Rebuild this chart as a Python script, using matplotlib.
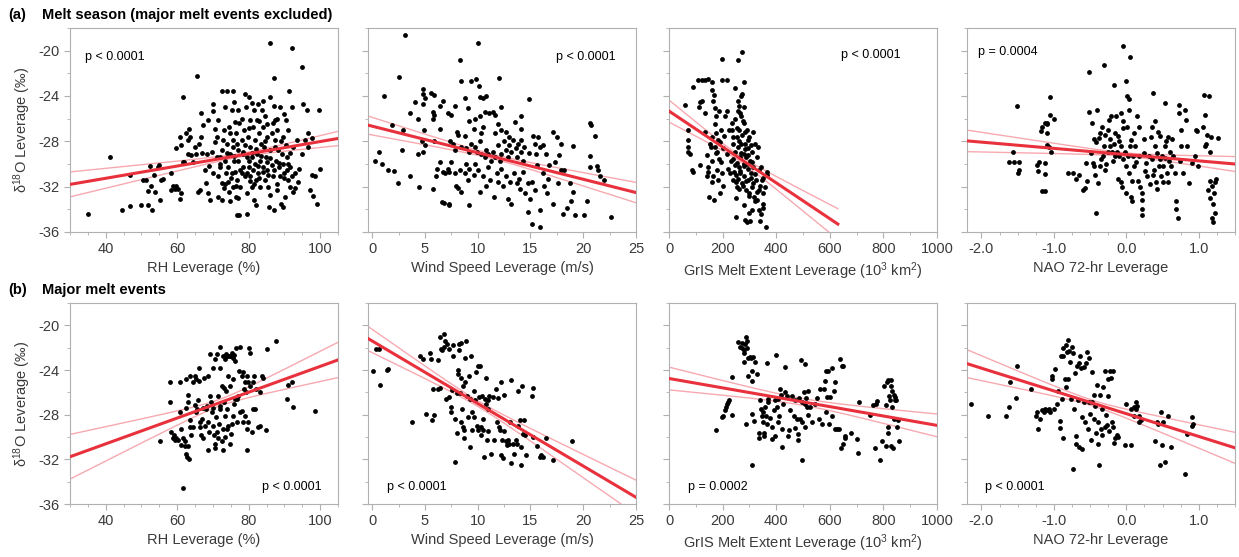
import matplotlib.pyplot as plt
import numpy as np
from matplotlib.ticker import MultipleLocator

plt.rcParams['font.family'] = ['Liberation Sans', 'DejaVu Sans']
plt.rcParams['mathtext.fontset'] = 'custom'
plt.rcParams['mathtext.rm'] = 'Liberation Sans'
plt.rcParams['mathtext.it'] = 'Liberation Sans:italic'
plt.rcParams['axes.unicode_minus'] = False

# ---- (a) melt season, major melt events excluded: (x, d18O)
rh_season = [(35.1,-34.4),(41.2,-29.4),(44.6,-34.1),(46.8,-33.7),(46.8,-31.0),(50.0,-33.6),(51.9,-33.6),(53.0,-34.1),
    (52.4,-30.2),(50.5,-31.4),(51.4,-31.4),(51.9,-32.4),(52.8,-31.9),(53.5,-31.0),(53.8,-32.5),(54.7,-30.3),(55.0,-30.1),
    (55.4,-31.4),(55.2,-33.2),(55.9,-31.3),(58.4,-30.8),(58.4,-32.3),(58.9,-31.9),(59.4,-32.2),(59.8,-31.9),(60.3,-32.2),
    (59.8,-28.6),(60.8,-27.6),(61.2,-28.3),(61.5,-29.8),(61.7,-24.1),(62.0,-29.8),(62.6,-27.3),(63.1,-27.9),(63.4,-26.9),
    (63.6,-27.6),(63.1,-29.1),(64.0,-29.2),(64.5,-29.8),(64.9,-28.5),(65.4,-29.1),(65.9,-32.5),(65.6,-22.2),(66.3,-32.3),
    (61.2,-32.6),(60.8,-33.1),(66.8,-25.5),(66.8,-27.6),(67.3,-26.6),(67.7,-30.5),(68.2,-29.1),(68.7,-32.6),(68.7,-26.1),
    (69.1,-33.2),(69.6,-28.9),(70.0,-24.7),(70.0,-30.8),(70.0,-25.3),(70.5,-26.9),(71.0,-29.4),(71.0,-27.6),(71.5,-32.9),
    (71.5,-31.1),(71.9,-29.4),(71.9,-30.3),(72.4,-23.6),(72.4,-31.7),(72.4,-33.2),(72.7,-27.9),(73.1,-27.0),(73.3,-29.7),
    (73.3,-25.0),(73.6,-30.8),(73.8,-23.6),(74.0,-28.2),(74.3,-31.6),(74.3,-30.3),(74.5,-26.7),(74.7,-29.1),(74.7,-33.3),
    (74.9,-27.3),(75.2,-25.2),(75.2,-30.8),(75.5,-23.6),(75.7,-32.0),(75.7,-28.5),(75.9,-29.7),(76.1,-26.3),(76.1,-30.7),
    (76.4,-27.3),(76.4,-32.9),(76.6,-34.5),(76.8,-28.2),(76.8,-31.4),(77.1,-25.2),(77.1,-29.7),(77.3,-34.5),(77.3,-26.4),
    (77.5,-30.5),(77.7,-32.0),(78.0,-27.9),(78.3,-28.9),(78.5,-30.3),(78.6,-27.0),(79.0,-31.1),(79.2,-25.0),(79.4,-29.4),
    (79.4,-32.6),(79.6,-34.4),(79.9,-27.6),(80.1,-24.1),(80.1,-30.3),(80.3,-31.1),(80.5,-26.1),(80.5,-28.5),(80.8,-32.0),
    (80.8,-29.4),(81.1,-30.5),(81.3,-26.7),(81.4,-25.2),(81.4,-33.2),(81.7,-27.9),(81.7,-30.0),(82.0,-31.4),(82.2,-26.1),
    (82.4,-29.1),(82.7,-30.8),(82.7,-24.7),(82.9,-27.3),(83.1,-29.7),(83.3,-32.0),(83.4,-28.2),(83.6,-25.2),(83.9,-30.3),
    (84.1,-26.7),(84.2,-28.5),(84.5,-25.8),(84.5,-31.4),(84.8,-29.4),(85.0,-27.6),(85.2,-30.5),(85.5,-32.0),(85.7,-33.8),
    (85.9,-24.1),(86.1,-28.8),(86.1,-19.3),(86.4,-30.1),(86.7,-26.4),(86.9,-31.1),(87.0,-34.1),(87.1,-22.4),(87.3,-27.9),
    (87.3,-26.1),(87.6,-29.7),(87.8,-32.3),(88.0,-27.0),(88.2,-28.8),(88.5,-30.3),(88.7,-25.0),(88.9,-31.1),(89.2,-29.1),
    (89.5,-33.8),(89.6,-27.6),(89.8,-30.8),(90.1,-32.9),(90.4,-26.1),(90.6,-29.4),(90.8,-30.5),(91.0,-31.4),(91.3,-23.6),
    (91.5,-30.3),(91.7,-32.0),(92.0,-19.8),(92.2,-25.0),(92.3,-32.5),(92.4,-28.5),(92.9,-30.8),(93.4,-27.9),(93.8,-31.6),
    (94.8,-21.4),(94.8,-29.1),(95.2,-24.7),(95.7,-27.9),(96.2,-25.2),(96.6,-27.3),(97.1,-32.3),(97.6,-31.0),(98.0,-32.8),
    (98.5,-31.1),(99.0,-33.5),(99.7,-25.2),(99.9,-30.4),(96.6,-28.5),(97.6,-27.7),
    (72.0,-30.0),(73.5,-31.8),(74.0,-29.0),(75.0,-31.2),(76.0,-29.3),(76.5,-31.9),(77.0,-28.8),(78.0,-30.8),(78.5,-29.1),
    (79.0,-28.3),(79.5,-30.8),(80.0,-29.7),(80.5,-31.5),(81.0,-29.0),(81.5,-31.8),(82.0,-28.7),(82.5,-30.2),(83.0,-31.2),
    (83.5,-29.3),(84.0,-30.7),(84.5,-28.0),(85.0,-29.8),(85.5,-31.0),(86.0,-29.5),(86.5,-27.3),(87.0,-30.5),(87.5,-28.5),
    (88.0,-31.8),(88.5,-29.9),(89.0,-28.0),(89.5,-30.0),(90.0,-31.2),(90.5,-28.3),(91.0,-30.0),(91.5,-29.0),(92.0,-31.1),
    (93.0,-32.1),(94.0,-30.4),(70.5,-28.1),(71.5,-26.1),(72.5,-28.8),(73.0,-32.1),(74.5,-32.5),(75.5,-27.9),(76.0,-24.5),
    (77.0,-33.0),(78.0,-26.0),(79.0,-23.8),(80.0,-26.8),(81.0,-24.6),(82.0,-33.6),(83.0,-26.2),(84.0,-24.4),(85.0,-26.5),
    (86.0,-32.7),(87.0,-24.9),(88.0,-26.0),(89.0,-33.5),(90.0,-25.6),(91.0,-27.0),(68.0,-31.7),(69.0,-30.2),(67.0,-29.0),
    (66.0,-28.2)]

wind_season = [(3.1,-18.6),(10.0,-19.35),(8.3,-20.8),(2.5,-22.3),(8.4,-22.65),(9.4,-22.65),(9.8,-22.5),(12.0,-22.4),
    (10.1,-23.1),(1.1,-24.0),(4.8,-23.4),(4.8,-23.8),(5.0,-24.2),(5.6,-23.7),(5.9,-23.9),(4.1,-24.5),(4.8,-24.7),(6.7,-24.4),
    (6.4,-24.9),(7.8,-24.9),(8.8,-24.2),(10.2,-24.1),(10.8,-24.0),(10.5,-24.2),(14.9,-24.3),(12.2,-25.0),(3.6,-25.5),
    (5.8,-25.4),(5.9,-25.7),(5.8,-26.0),(7.2,-25.5),(7.5,-25.7),(9.1,-25.1),(10.7,-25.4),(11.1,-25.5),(11.4,-25.4),
    (11.6,-25.7),(4.3,-26.0),(9.2,-26.2),(9.7,-26.0),(10.2,-25.8),(11.9,-26.5),(13.5,-26.3),(14.1,-25.8),(1.9,-26.6),
    (2.9,-27.0),(4.9,-27.0),(6.4,-26.9),(8.0,-27.2),(8.8,-27.5),(9.6,-26.9),(10.3,-27.3),(10.5,-26.7),(11.6,-27.3),
    (12.2,-27.0),(12.7,-27.2),(13.0,-27.6),(14.1,-26.9),(14.1,-27.9),(15.2,-27.5),(15.7,-27.6),(17.1,-27.2),(17.5,-27.6),
    (20.6,-26.4),(20.7,-26.6),(21.1,-27.5),(0.6,-28.9),(2.8,-28.8),(4.3,-29.1),(4.7,-28.0),(4.8,-28.9),(5.0,-28.3),
    (5.9,-28.0),(7.4,-28.0),(7.7,-28.25),(7.8,-28.8),(8.1,-27.45),(8.4,-28.5),(8.9,-28.6),(9.2,-28.9),(9.4,-28.2),
    (9.7,-28.5),(9.9,-28.9),(10.2,-28.0),(10.3,-29.1),(10.7,-29.4),(10.8,-28.8),(11.0,-29.1),(11.3,-29.7),(11.4,-28.9),
    (11.6,-29.4),(11.9,-28.3),(12.1,-29.7),(12.2,-29.1),(12.5,-28.0),(12.7,-28.8),(12.9,-29.4),(13.0,-28.3),(13.2,-28.9),
    (13.3,-27.9),(13.6,-28.6),(13.7,-29.4),(13.8,-28.2),(14.1,-28.9),(14.3,-29.7),(14.4,-28.5),(14.9,-29.0),(15.4,-28.2),
    (15.5,-29.1),(15.9,-28.5),(16.2,-28.3),(16.5,-29.1),(17.7,-29.2),(17.9,-28.2),(19.0,-28.4),(20.6,-29.3),(0.3,-29.7),
    (0.9,-30.0),(1.5,-30.5),(2.1,-30.6),(2.4,-31.7),(3.6,-31.1),(4.4,-32.0),(5.8,-32.2),(6.1,-30.4),(6.0,-31.1),(6.4,-29.8),
    (6.7,-30.7),(6.9,-30.8),(7.2,-30.4),(7.3,-30.7),(7.5,-29.8),(7.8,-30.8),(7.9,-31.9),(8.1,-32.1),(8.3,-30.5),(8.4,-32.5),
    (8.8,-30.8),(8.9,-30.0),(9.1,-31.4),(9.2,-30.4),(9.6,-31.0),(9.7,-30.0),(10.0,-30.5),(10.2,-32.5),(10.5,-31.1),
    (10.8,-31.9),(11.0,-30.3),(11.2,-31.4),(11.5,-32.9),(11.8,-30.8),(11.9,-31.6),(12.2,-30.4),(12.4,-31.9),(12.7,-31.1),
    (12.9,-33.1),(13.1,-31.6),(13.2,-33.5),(13.4,-30.8),(13.7,-31.7),(13.9,-31.3),(14.0,-32.2),(14.3,-30.7),(14.5,-32.6),
    (14.8,-31.7),(15.0,-33.1),(15.1,-31.6),(15.4,-32.3),(15.6,-30.1),(15.9,-34.1),(16.2,-30.8),(16.3,-31.9),(16.6,-32.6),
    (16.7,-31.3),(16.8,-30.1),(17.1,-33.5),(17.3,-29.8),(17.6,-31.7),(17.9,-30.5),(18.1,-34.4),(18.2,-30.5),(18.5,-33.9),
    (18.7,-31.7),(18.8,-33.3),(19.0,-32.5),(19.2,-34.5),(20.1,-34.5),(20.4,-33.3),(20.6,-30.3),(21.3,-30.2),(21.4,-30.5),
    (21.6,-31.1),(22.0,-31.4),(22.6,-34.7),(6.6,-33.35),(6.8,-33.4),(7.3,-33.5),(7.3,-33.6),(9.2,-33.6),(15.1,-35.3),
    (15.9,-35.6),(14.8,-34.2)]

melt_season = [(60,-24.8),(70,-27.0),(70,-27.9),(72,-28.5),(72,-28.9),(78,-29.1),(85,-30.5),(91,-30.7),(91,-23.2),
    (110,-22.6),(122,-22.6),(134,-22.6),(145,-22.5),(116,-30.1),(112,-25.0),(116,-24.5),(122,-24.4),(134,-25.5),(134,-27.2),
    (141,-29.2),(141,-31.1),(147,-30.3),(151,-32.9),(157,-28.5),(160,-22.8),(162,-23.5),(166,-24.4),(169,-23.9),(169,-33.2),
    (160,-27.6),(153,-28.2),(162,-29.7),(166,-31.1),(172,-25.1),(174,-25.8),(172,-28.5),(176,-27.3),(178,-28.9),(178,-30.5),
    (184,-31.4),(182,-27.9),(187,-25.3),(191,-28.1),(191,-32.6),(197,-20.7),(197,-22.6),(194,-27.0),(197,-30.8),(200,-28.6),
    (203,-31.9),(209,-25.8),(216,-22.6),(216,-25.3),(216,-29.1),(219,-30.4),(224,-27.0),(228,-30.8),(232,-29.7),(234,-27.0),
    (238,-27.6),(240,-28.2),(240,-31.4),(244,-30.7),(247,-23.3),(247,-28.9),(249,-31.6),(250,-34.7),(253,-27.6),(253,-32.0),
    (257,-25.3),(259,-20.8),(259,-24.4),(259,-28.5),(262,-30.3),(263,-27.0),(265,-29.4),(265,-30.8),(269,-25.8),(269,-28.2),
    (272,-31.7),(272,-23.8),(274,-20.1),(274,-27.4),(278,-29.1),(278,-30.0),(278,-26.4),(281,-22.8),(281,-25.0),(281,-31.1),
    (284,-34.9),(284,-28.2),(286,-32.3),(286,-29.4),(290,-35.1),(290,-27.0),(294,-30.4),(294,-28.6),(296,-31.4),(299,-32.6),
    (300,-27.6),(303,-29.7),(303,-35.0),(306,-30.8),(309,-34.1),(309,-28.9),(311,-32.0),(313,-27.2),(315,-30.3),(319,-32.9),
    (321,-28.2),(324,-31.4),(327,-33.2),(327,-29.4),(331,-28.5),(334,-30.5),(336,-32.3),(337,-34.1),(340,-35.0),(344,-34.4),
    (344,-30.3),(346,-31.4),(349,-33.5),(352,-33.9),(352,-32.6),(359,-32.0),(361,-35.6),(365,-30.7),(365,-31.0),
    (240,-29.6),(245,-30.1),(250,-31.0),(255,-29.9),(258,-31.3),(260,-28.0),(262,-32.2),(266,-30.6),(270,-29.0),(275,-31.9),
    (280,-30.2),(285,-28.7),(288,-31.5),(292,-30.0),(296,-29.2),(300,-32.8),(305,-31.2),(310,-29.8),(315,-31.7),(320,-30.9),
    (330,-32.5),(340,-31.9),(350,-31.2),(235,-26.4),(245,-26.0),(255,-26.8),(265,-25.5),(275,-26.2),(285,-27.2),(295,-27.9),
    (305,-28.3),(262,-24.9),(270,-24.0),(250,-33.0),(280,-33.6),(300,-34.3),(320,-33.3),(175,-29.0),(185,-29.6),(160,-31.6),
    (145,-30.7),(195,-29.8),(205,-27.5),(170,-26.5)]

nao_season = [(-1.62,-29.8),(-1.57,-28.9),(-1.55,-29.8),(-1.51,-24.9),(-1.48,-30.5),(-1.50,-30.8),(-1.48,-29.8),
    (-1.24,-30.1),(-1.22,-30.6),(-1.20,-29.8),(-1.18,-27.1),(-1.16,-32.4),(-1.16,-26.7),(-1.13,-26.4),(-1.12,-29.9),
    (-1.12,-30.9),(-1.10,-26.4),(-1.10,-28.3),(-1.09,-26.5),(-1.09,-27.3),(-1.07,-28.5),(-1.06,-25.7),(-1.05,-24.1),
    (-1.04,-28.9),(-1.00,-26.0),(-1.12,-32.4),(-0.80,-30.8),(-0.74,-30.8),(-0.70,-31.3),(-0.65,-31.0),(-0.60,-32.3),
    (-0.57,-32.1),(-0.56,-29.9),(-0.54,-31.5),(-0.52,-21.9),(-0.52,-25.4),(-0.49,-29.0),(-0.47,-26.4),(-0.46,-29.9),
    (-0.45,-30.2),(-0.43,-31.0),(-0.42,-34.3),(-0.42,-28.1),(-0.40,-25.2),(-0.39,-31.7),(-0.38,-27.7),(-0.37,-30.2),
    (-0.36,-27.3),(-0.33,-26.7),(-0.32,-29.3),(-0.31,-21.3),(-0.31,-28.4),(-0.30,-30.5),(-0.29,-27.4),(-0.26,-27.0),
    (-0.25,-28.9),(-0.24,-26.1),(-0.23,-27.8),(-0.22,-28.4),(-0.21,-25.8),(-0.20,-28.9),(-0.17,-23.0),(-0.17,-28.2),
    (-0.16,-29.3),(-0.15,-27.3),(-0.14,-25.8),(-0.13,-28.9),(-0.11,-31.3),(-0.10,-28.0),(-0.10,-29.3),(-0.08,-25.5),
    (-0.08,-31.6),(-0.07,-28.4),(-0.06,-32.0),(-0.05,-29.6),(-0.05,-19.6),(-0.04,-26.2),(-0.02,-28.9),(-0.01,-22.7),
    (-0.01,-30.2),(0.00,-32.6),(0.01,-26.7),(0.01,-24.0),(0.02,-29.3),(0.03,-25.2),(0.04,-24.3),(0.04,-30.8),(0.05,-20.6),
    (0.05,-28.4),(0.07,-32.9),(0.08,-33.3),(0.09,-29.3),(0.10,-27.3),(0.11,-30.2),(0.12,-28.4),(0.15,-25.8),(0.16,-31.5),
    (0.17,-29.3),(0.18,-26.7),(0.19,-32.0),(0.21,-32.6),(0.21,-34.5),(0.21,-33.2),(0.22,-34.0),(0.24,-29.0),(0.25,-27.8),
    (0.26,-30.6),(0.28,-31.1),(0.31,-29.3),(0.33,-31.8),(0.34,-27.6),(0.35,-26.7),(0.36,-29.6),(0.37,-23.7),(0.37,-31.0),
    (0.39,-28.4),(0.40,-26.2),(0.41,-31.6),(0.42,-29.0),(0.43,-32.2),(0.44,-27.2),(0.45,-30.2),(0.47,-29.6),(0.48,-31.1),
    (0.49,-29.3),(0.50,-31.6),(0.51,-30.2),(0.53,-24.6),(0.53,-28.4),(0.54,-29.5),(0.56,-30.8),(0.57,-27.6),(0.58,-31.6),
    (0.59,-29.7),(0.60,-28.9),(0.62,-30.2),(0.63,-27.8),(0.67,-30.8),(0.68,-34.0),(0.69,-33.3),(0.71,-34.8),(0.72,-24.8),
    (0.73,-25.5),(0.74,-29.7),(0.75,-28.4),(0.76,-27.0),(0.78,-30.8),(0.81,-25.2),(0.82,-26.1),(0.84,-28.4),(0.86,-31.7),
    (0.90,-29.9),(0.95,-29.3),(0.96,-27.0),(0.98,-27.1),(0.99,-30.2),(1.06,-26.7),(1.07,-23.9),(1.08,-25.7),(1.09,-28.4),
    (1.10,-28.2),(1.12,-27.4),(1.13,-32.3),(1.14,-24.0),(1.15,-33.0),(1.15,-31.5),(1.16,-28.9),(1.17,-27.6),(1.18,-31.9),
    (1.18,-34.8),(1.20,-33.5),(1.20,-35.1),(1.21,-32.6),(1.22,-31.6),(1.23,-34.3),(1.24,-31.3),(1.26,-27.7),
    (-0.35,-29.6),(-0.28,-30.0),(-0.18,-29.7),(-0.12,-27.5),(0.06,-27.9),(0.14,-29.8),(0.27,-29.9),(0.38,-30.5),
    (0.46,-27.5),(0.55,-28.0),(0.65,-29.3),(-0.44,-27.8),(-0.05,-26.8),(0.08,-31.5)]

# ---- (b) major melt events
rh_major = [(55.2,-30.4),(58.0,-26.9),(58.1,-25.1),(58.4,-29.55),(58.7,-30.1),(59.1,-29.85),(59.5,-30.3),(59.8,-30.1),
    (60.3,-30.3),(60.8,-27.8),(60.8,-25.1),(61.0,-29.3),(61.2,-30.7),(61.5,-30.1),(61.7,-34.6),(62.2,-30.8),(62.3,-30.4),
    (62.4,-27.4),(62.6,-24.8),(62.6,-31.5),(62.8,-31.8),(62.9,-30.8),(63.1,-26.2),(63.1,-26.9),(63.4,-32.0),(63.6,-24.5),
    (63.6,-28.5),(63.7,-29.1),(64.0,-29.85),(64.3,-25.1),(64.5,-29.1),(64.9,-24.5),(64.9,-27.1),(65.2,-24.8),(65.4,-27.8),
    (65.6,-27.5),(65.9,-26.7),(66.2,-23.8),(66.3,-28.7),(66.5,-29.1),(66.8,-29.85),(67.1,-27.4),(67.3,-30.1),(67.5,-24.7),
    (67.7,-29.0),(68.0,-27.5),(68.2,-27.2),(68.5,-28.7),(68.7,-31.2),(68.7,-24.5),(69.0,-29.55),(69.1,-26.3),(69.3,-22.6),
    (69.6,-27.8),(69.9,-29.0),(70.1,-23.8),(70.1,-27.4),(70.3,-29.85),(70.5,-30.6),(70.5,-23.0),(70.8,-28.2),(71.0,-29.55),
    (71.2,-22.6),(71.5,-26.3),(71.5,-30.1),(71.8,-28.8),(71.9,-27.5),(71.9,-23.8),(72.1,-21.9),(72.4,-25.4),(72.4,-30.4),
    (72.7,-22.75),(72.7,-29.3),(72.9,-31.2),(73.1,-25.6),(73.1,-26.9),(73.3,-23.05),(73.3,-28.1),(73.6,-25.9),(73.6,-22.6),
    (73.8,-29.3),(74.0,-22.75),(74.2,-29.0),(74.3,-24.5),(74.5,-22.75),(74.7,-25.4),(74.7,-30.6),(74.9,-22.75),(75.2,-28.8),
    (75.2,-22.5),(75.5,-22.9),(75.7,-24.8),(75.7,-28.1),(75.9,-22.7),(76.1,-26.6),(76.1,-23.2),(76.4,-22.0),(76.6,-26.6),
    (76.8,-28.7),(77.1,-26.3),(77.3,-24.1),(77.5,-21.9),(77.7,-27.8),(78.0,-24.5),(78.3,-24.2),(78.5,-28.7),(78.6,-25.7),
    (79.0,-25.1),(79.0,-28.1),(79.2,-26.0),(79.4,-24.5),(79.4,-29.3),(79.6,-31.2),(79.9,-25.1),(79.9,-28.7),(80.1,-22.0),
    (80.3,-25.4),(80.5,-22.5),(80.8,-29.55),(81.1,-25.1),(81.3,-27.5),(81.4,-24.5),(81.7,-27.5),(82.0,-25.7),(82.7,-29.1),
    (83.1,-29.0),(83.3,-26.0),(83.6,-24.5),(84.1,-24.7),(84.8,-29.4),(85.2,-22.1),(87.6,-21.4),(90.8,-26.6),(91.1,-25.3),
    (92.0,-25.1),(92.3,-27.3),(98.5,-27.7),(66.0,-25.0),(69.5,-26.9),(72.0,-27.2),(74.0,-27.5),(76.0,-27.0),(78.0,-27.7),
    (70.5,-31.0),(67.0,-28.4),(73.5,-30.0),(75.0,-29.7)]

wind_major = [(0.1,-24.1),(0.4,-22.1),(0.6,-22.1),(0.7,-25.35),(1.4,-24.0),(1.5,-23.9),(3.8,-28.7),(4.5,-22.75),
    (4.8,-23.0),(5.1,-27.9),(5.5,-22.5),(5.6,-23.0),(5.7,-28.5),(5.9,-28.0),(5.8,-25.7),(6.2,-23.1),(6.2,-25.7),(6.4,-21.0),
    (6.4,-25.6),(6.5,-22.1),(6.6,-22.2),(6.8,-21.9),(6.8,-20.8),(6.9,-21.4),(7.0,-26.6),(7.1,-21.7),(7.3,-22.1),(7.3,-26.4),
    (7.5,-27.3),(7.5,-27.8),(7.6,-25.8),(7.7,-22.75),(7.7,-21.8),(7.8,-28.4),(7.8,-32.2),(8.0,-26.1),(8.1,-24.0),(8.1,-24.4),
    (8.2,-22.2),(8.2,-21.7),(8.3,-26.1),(8.4,-21.6),(8.4,-24.7),(8.4,-28.7),(8.5,-27.5),(8.6,-29.1),(8.6,-25.4),(8.7,-30.1),
    (8.7,-29.4),(8.8,-22.9),(8.8,-25.1),(8.9,-21.4),(9.0,-26.3),(9.1,-28.2),(9.2,-24.5),(9.3,-30.9),(9.3,-26.6),(9.4,-22.75),
    (9.5,-29.4),(9.6,-25.9),(9.6,-28.2),(9.7,-26.7),(9.8,-24.2),(9.9,-29.0),(10.0,-23.6),(10.0,-29.4),(10.1,-26.4),
    (10.2,-23.6),(10.3,-29.1),(10.3,-29.8),(10.4,-26.3),(10.5,-29.4),(10.6,-31.8),(10.7,-26.6),(10.8,-24.7),(10.8,-27.0),
    (10.9,-30.3),(11.0,-26.7),(11.0,-29.5),(11.1,-26.3),(11.3,-31.5),(11.4,-26.4),(11.5,-30.3),(11.7,-25.7),(11.8,-28.7),
    (11.9,-26.5),(12.0,-29.1),(12.1,-29.4),(12.2,-31.6),(12.2,-25.1),(12.3,-30.3),(12.4,-31.9),(12.5,-26.2),(12.7,-30.4),
    (12.8,-30.7),(12.9,-30.3),(13.0,-30.6),(13.1,-28.7),(13.2,-24.9),(13.2,-32.3),(13.3,-30.6),(13.4,-31.5),(13.6,-30.3),
    (13.7,-30.6),(13.8,-25.9),(14.0,-28.5),(14.1,-30.9),(14.1,-32.5),(14.2,-25.4),(14.3,-29.7),(14.4,-28.5),(14.5,-29.85),
    (14.6,-31.6),(15.1,-26.3),(15.2,-25.6),(15.2,-30.0),(15.6,-30.8),(15.9,-31.8),(16.0,-31.6),(16.2,-31.8),(16.5,-30.1),
    (17.1,-32.1),(18.9,-30.4),(11.0,-27.5),(12.5,-29.5),(13.8,-29.0),(9.5,-27.8),(8.0,-29.6),(10.5,-28.4)]

melt_major = [(174,-29.4),(197,-28.2),(203,-28.1),(209,-27.6),(211,-27.3),(215,-27.0),(222,-26.9),(224,-26.7),(234,-24.6),
    (234,-28.0),(259,-21.5),(265,-21.9),(271,-22.0),(274,-21.6),(278,-22.5),(281,-22.2),(284,-21.7),(286,-21.0),(290,-21.4),
    (291,-22.0),(294,-22.9),(286,-28.8),(296,-24.5),(303,-22.8),(306,-22.9),(309,-24.1),(309,-25.0),(311,-27.9),(311,-32.5),
    (315,-22.8),(321,-23.3),(327,-24.4),(334,-29.6),(336,-30.1),(340,-26.7),(344,-27.5),(346,-28.1),(349,-27.8),(352,-28.7),
    (356,-29.9),(359,-27.3),(361,-28.1),(365,-23.4),(365,-28.8),(369,-26.6),(371,-26.9),(377,-28.3),(384,-30.2),(386,-29.1),
    (390,-27.6),(394,-29.9),(396,-26.7),(398,-22.7),(402,-27.3),(406,-28.7),(408,-26.6),(411,-28.1),(415,-25.7),(418,-26.2),
    (421,-29.3),(423,-30.9),(427,-27.0),(431,-26.0),(433,-23.7),(440,-26.3),(443,-29.9),(446,-29.4),(452,-27.6),(458,-26.3),
    (465,-28.1),(471,-26.7),(477,-28.4),(481,-29.7),(483,-30.3),(486,-26.5),(489,-28.4),(493,-23.1),(496,-26.9),(498,-32.1),
    (498,-28.7),(502,-26.0),(506,-23.5),(506,-27.0),(508,-29.1),(511,-26.5),(514,-27.3),(518,-25.9),(527,-27.3),(535,-28.7),
    (543,-27.0),(552,-26.5),(560,-28.4),(564,-25.7),(570,-28.8),(577,-25.7),(583,-25.0),(585,-27.8),(585,-24.1),(589,-26.4),
    (595,-24.1),(598,-28.8),(601,-26.4),(608,-23.8),(608,-28.1),(614,-25.9),(620,-25.1),(620,-29.3),(626,-29.3),(633,-29.3),
    (639,-23.0),(640,-31.0),(645,-23.6),(648,-30.6),(651,-23.6),(655,-29.9),(657,-30.1),(680,-29.6),(701,-30.2),(707,-31.4),
    (710,-26.9),(751,-28.0),(763,-27.1),(767,-31.0),(772,-27.0),(776,-26.8),(788,-32.1),(794,-30.4),(804,-25.4),(809,-27.1),
    (809,-30.8),(813,-25.1),(817,-29.1),(819,-24.9),(819,-29.6),(822,-26.3),(826,-26.7),(827,-24.9),(829,-25.4),(829,-30.8),
    (832,-25.9),(832,-27.3),(834,-31.0),(838,-26.2),(838,-28.4),(842,-26.7),(844,-26.4),(847,-26.7),(851,-29.1),(854,-28.5),
    (857,-30.4),(280,-23.3),(318,-28.6),(355,-29.6),(470,-29.2),(520,-28.0)]

nao_major = [(-2.14,-27.0),(-1.91,-28.1),(-1.66,-28.1),(-1.62,-27.3),(-1.61,-25.1),(-1.52,-26.5),(-1.51,-23.6),
    (-1.31,-25.7),(-1.25,-28.1),(-1.23,-27.8),(-1.22,-29.3),(-1.19,-28.4),(-1.17,-27.6),(-1.14,-27.8),(-1.12,-27.5),
    (-1.10,-27.6),(-1.07,-27.5),(-1.05,-27.8),(-1.03,-24.8),(-1.02,-24.5),(-1.00,-27.5),(-0.98,-23.9),(-0.96,-27.0),
    (-0.94,-25.9),(-0.92,-28.6),(-0.91,-29.2),(-0.90,-22.75),(-0.89,-26.6),(-0.88,-30.1),(-0.87,-22.0),(-0.87,-22.75),
    (-0.85,-24.8),(-0.84,-21.8),(-0.83,-25.5),(-0.82,-22.4),(-0.81,-21.3),(-0.80,-24.8),(-0.79,-22.3),(-0.78,-23.3),
    (-0.76,-26.6),(-0.75,-21.9),(-0.74,-32.9),(-0.73,-22.5),(-0.72,-27.5),(-0.71,-24.3),(-0.70,-29.9),(-0.70,-30.6),
    (-0.68,-23.6),(-0.67,-26.7),(-0.66,-30.9),(-0.65,-23.4),(-0.64,-22.75),(-0.62,-23.8),(-0.61,-28.2),(-0.61,-31.1),
    (-0.59,-23.7),(-0.58,-26.9),(-0.57,-28.7),(-0.56,-23.4),(-0.55,-22.4),(-0.53,-29.3),(-0.52,-26.9),(-0.51,-22.9),
    (-0.50,-27.9),(-0.49,-30.3),(-0.48,-24.2),(-0.47,-26.9),(-0.45,-26.2),(-0.44,-28.4),(-0.43,-27.2),(-0.42,-29.6),
    (-0.41,-25.3),(-0.39,-30.6),(-0.39,-28.7),(-0.38,-32.5),(-0.36,-26.2),(-0.35,-29.3),(-0.34,-27.5),(-0.33,-29.8),
    (-0.32,-25.5),(-0.30,-29.1),(-0.29,-24.1),(-0.28,-28.0),(-0.27,-28.9),(-0.26,-26.3),(-0.25,-24.8),(-0.24,-29.5),
    (-0.22,-24.1),(-0.21,-24.7),(-0.20,-28.7),(-0.19,-24.1),(-0.18,-29.1),(-0.17,-30.5),(-0.16,-30.1),(-0.13,-29.8),
    (-0.11,-30.0),(-0.02,-30.7),(0.00,-27.0),(0.06,-30.7),(0.07,-27.5),(0.10,-28.1),(0.11,-27.3),(0.13,-27.5),(0.14,-26.9),
    (0.15,-27.2),(0.17,-28.7),(0.18,-28.1),(0.20,-28.5),(0.39,-30.4),(0.42,-28.7),(0.44,-28.8),(0.46,-32.5),(0.48,-27.8),
    (0.49,-30.7),(0.51,-28.7),(0.53,-32.2),(0.58,-28.1),(0.61,-30.9),(0.81,-33.3),(0.84,-29.7),(0.90,-29.0),(0.91,-28.2),
    (0.92,-28.8)]

# fitted line end points and confidence band (narrowest half-width at ci_mid, half-width at left end)
fit_x_season = [[30, 105], [-0.4, 25], [0, 630], [-2.2, 1.5]]
fit_y_season = [[-31.8, -27.75], [-26.57, -32.52], [-25.33, -35.3], [-27.96, -30.0]]
ci_mid_season = [78, 11.5, 260, 0.0]
ci_min_season = [0.15, 0.2, 0.25, 0.15]
ci_edge_season = [1.1, 0.8, 0.97, 0.95]

fit_x_major = [[30, 105], [-0.4, 25], [0, 1000], [-2.2, 1.5]]
fit_y_major = [[-31.77, -23.1], [-21.18, -35.4], [-24.76, -28.96], [-23.43, -30.97]]
ci_mid_major = [72, 10, 500, -0.45]
ci_min_major = [0.3, 0.25, 0.3, 0.25]
ci_edge_major = [2.0, 1.08, 1.02, 1.25]

p_season = ['p < 0.0001', 'p < 0.0001', 'p < 0.0001', 'p = 0.0004']
p_major = ['p < 0.0001', 'p < 0.0001', 'p = 0.0002', 'p < 0.0001']

xlabels = ['RH Leverage (%)', 'Wind Speed Leverage (m/s)',
           'GrIS Melt Extent Leverage (10$^3$ km$^2$)', 'NAO 72-hr Leverage']
xlims = [(30, 105), (-0.4, 25), (0, 1000), (-2.2, 1.5)]
xticks = [[40, 60, 80, 100], [0, 5, 10, 15, 20, 25], [0, 200, 400, 600, 800, 1000], [-2, -1, 0, 1]]
xticklabels = [['40', '60', '80', '100'], ['0', '5', '10', '15', '20', '25'],
               ['0', '200', '400', '600', '800', '1000'], ['-2.0', '-1.0', '0.0', '1.0']]
xminor = [5, 2.5, 100, 0.25]

p_pos_season = [(0.056, 0.86), (0.70, 0.86), (0.64, 0.87), (0.04, 0.88)]
p_pos_major = [(0.716, 0.085), (0.07, 0.085), (0.07, 0.085), (0.067, 0.085)]

fig = plt.figure(figsize=(12.39, 5.57), dpi=100)
lefts = [70, 368, 669, 967]
W, H = 1239, 557
gray = '#b0b0b0'
txt = '#3a3a3a'

rows = [
    ([rh_season, wind_season, melt_season, nao_season], fit_x_season, fit_y_season,
     ci_mid_season, ci_min_season, ci_edge_season, p_season, p_pos_season, 28, 232),
    ([rh_major, wind_major, melt_major, nao_major], fit_x_major, fit_y_major,
     ci_mid_major, ci_min_major, ci_edge_major, p_major, p_pos_major, 303, 504),
]

for pts_list, fx, fy, cmid, cmin, cedge, ptxt, ppos, top, bot in rows:
    for i in range(4):
        ax = fig.add_axes([lefts[i] / W, 1 - bot / H, 268 / W, (bot - top) / H])
        pts = np.array(pts_list[i])
        ax.scatter(pts[:, 0], pts[:, 1], s=12, c='black', linewidths=0, zorder=3)

        # regression line with confidence band
        x0, x1 = fx[i]
        xx = np.linspace(x0, x1, 200)
        yy = fy[i][0] + (fy[i][1] - fy[i][0]) * (xx - x0) / (x1 - x0)
        c = (cedge[i] ** 2 - cmin[i] ** 2) / (x0 - cmid[i]) ** 2
        hw = np.sqrt(cmin[i] ** 2 + c * (xx - cmid[i]) ** 2)
        ax.plot(xx, yy + hw, color='#f7a9b0', lw=1.0, zorder=2)
        ax.plot(xx, yy - hw, color='#f7a9b0', lw=1.0, zorder=2)
        ax.plot(xx, yy, color='#e8313c', lw=2.2, zorder=4)

        ax.set_xlim(xlims[i])
        ax.set_ylim(-36, -18)
        ax.set_xticks(xticks[i])
        ax.set_xticklabels(xticklabels[i])
        ax.xaxis.set_minor_locator(MultipleLocator(xminor[i]))
        ax.set_yticks([-36, -32, -28, -24, -20])
        ax.yaxis.set_minor_locator(MultipleLocator(2))
        if i == 0:
            ax.set_ylabel(r'δ$^{18}$O Leverage (‰)', fontsize=10.5, color=txt)
        else:
            ax.set_yticklabels([])
        ax.set_xlabel(xlabels[i], fontsize=10.5, color=txt, labelpad=3)
        ax.tick_params(which='both', direction='out', color=gray, labelsize=10.5, labelcolor=txt)
        ax.tick_params(which='major', length=4)
        ax.tick_params(which='minor', length=2.5)
        for sp in ax.spines.values():
            sp.set_color(gray)
            sp.set_linewidth(0.8)
        ax.text(ppos[i][0], ppos[i][1], ptxt[i], transform=ax.transAxes, fontsize=9, va='center', ha='left')

fig.text(8 / W, 1 - 15 / H, '(a)', fontsize=10.5, fontweight='bold', va='center')
fig.text(42 / W, 1 - 15 / H, 'Melt season (major melt events excluded)', fontsize=10.5, fontweight='bold', va='center')
fig.text(8 / W, 1 - 290 / H, '(b)', fontsize=10.5, fontweight='bold', va='center')
fig.text(42 / W, 1 - 290 / H, 'Major melt events', fontsize=10.5, fontweight='bold', va='center')

fig.savefig('out.png', dpi=100)
